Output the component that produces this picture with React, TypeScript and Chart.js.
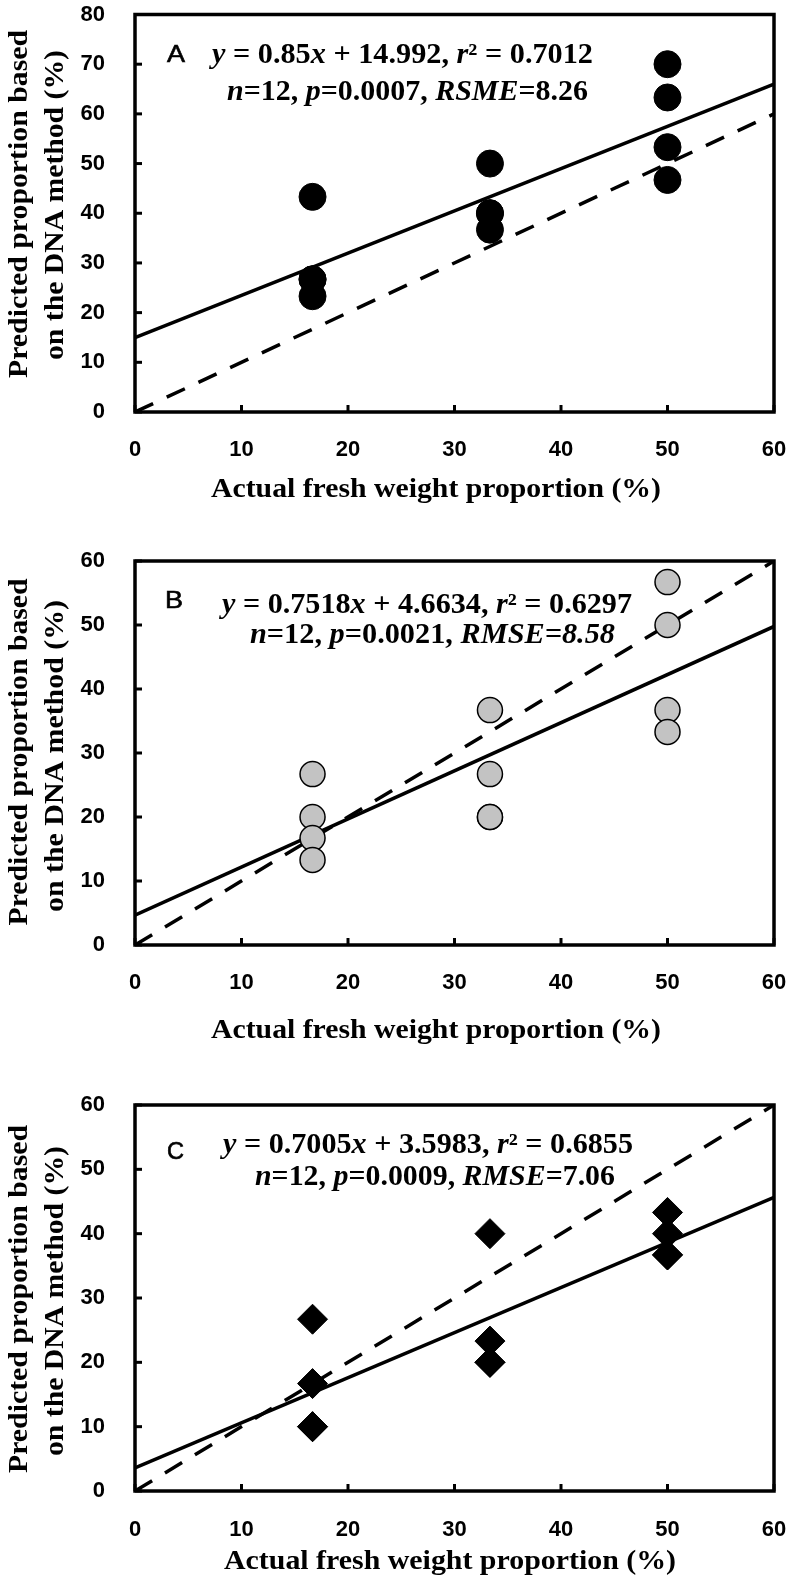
import React, { useEffect, useRef } from "react";
import { Chart, registerables } from "chart.js";

Chart.register(...registerables);

// ---------- data ----------
const xTickValues = [0, 10, 20, 30, 40, 50, 60];
const actualX = [16.67, 16.67, 16.67, 16.67, 33.33, 33.33, 33.33, 33.33, 50, 50, 50, 50];
const predictedA = [43.3, 26.7, 26.7, 23.3, 50, 40, 40, 36.7, 70, 63.3, 53.3, 46.7];
const predictedB = [26.7, 20, 16.7, 13.3, 36.7, 26.7, 20, 20, 56.7, 50, 36.7, 33.3];
const predictedC = [26.7, 16.7, 10, 10, 40, 23.3, 20, 20, 43.3, 40, 36.7, 36.7];
const slopes = [0.85, 0.7518, 0.7005];
const intercepts = [14.992, 4.6634, 3.5983];
const identityEnds = [0, 60];
const yMaxes = [80, 60, 60];
const panelLetters = ["A", "B", "C"];

type Seg = [string, boolean];
const eqLine1: Seg[][] = [
  [["y", true], [" = 0.85", false], ["x", true], [" + 14.992, ", false], ["r", true], ["\u00b2 = 0.7012", false]],
  [["y", true], [" = 0.7518", false], ["x", true], [" + 4.6634, ", false], ["r", true], ["\u00b2 = 0.6297", false]],
  [["y", true], [" = 0.7005", false], ["x", true], [" + 3.5983, ", false], ["r", true], ["\u00b2 = 0.6855", false]],
];
const eqLine2: Seg[][] = [
  [["n", true], ["=12, ", false], ["p", true], ["=0.0007, ", false], ["RSME", true], ["=8.26", false]],
  [["n", true], ["=12, ", false], ["p", true], ["=0.0021, ", false], ["RMSE=8.58", true]],
  [["n", true], ["=12, ", false], ["p", true], ["=0.0009, ", false], ["RMSE", true], ["=7.06", false]],
];
const yTitleLines = ["Predicted proportion based", "on the DNA method (%)"];
const xTitle = "Actual fresh weight proportion (%)";

// ---------- layout / style ----------
const layouts = [
  {
    top: 0, h: 525, areaTop: 14, areaBottom: 412,
    letter: [167, 62, 18], eq1: [212, 63, 381], eq2: [227, 100, 361],
    yTitle: [[27, 204, 348], [63, 205, 310]], xTitle: [436, 497, 450], xPad: 17,
  },
  {
    top: 525, h: 545, areaTop: 36, areaBottom: 420,
    letter: [165, 83, 18], eq1: [222, 88, 410], eq2: [250, 118, 365],
    yTitle: [[27, 227, 347], [63, 231, 312]], xTitle: [436, 513, 450], xPad: 17,
  },
  {
    top: 1070, h: 511, areaTop: 35, areaBottom: 421,
    letter: [167, 89, 17], eq1: [223, 83, 410], eq2: [255, 115, 360],
    yTitle: [[27, 229, 348], [63, 231, 310]], xTitle: [450, 499, 452], xPad: 18,
  },
];
const pointStyles = [
  { pointStyle: "circle", radius: 13.5, backgroundColor: "#000", borderColor: "#000", borderWidth: 1 },
  { pointStyle: "circle", radius: 12.5, backgroundColor: "#c3c3c3", borderColor: "#000", borderWidth: 1.5 },
  { pointStyle: "rectRot", radius: 15, backgroundColor: "#000", borderColor: "#000", borderWidth: 1 },
];
const serif = '"Liberation Serif", "Times New Roman", serif';
const sans = '"Liberation Sans", Arial, sans-serif';

function drawRich(ctx: CanvasRenderingContext2D, segs: Seg[], x: number, y: number, size: number, targetW: number) {
  const font = (it: boolean) => `${it ? "italic " : ""}bold ${size}px ${serif}`;
  let w = 0;
  for (const [t, it] of segs) {
    ctx.font = font(it);
    w += ctx.measureText(t).width;
  }
  const sx = targetW / w;
  ctx.save();
  ctx.translate(x, y);
  ctx.scale(sx, 1);
  ctx.textBaseline = "alphabetic";
  ctx.textAlign = "left";
  let cx = 0;
  for (const [t, it] of segs) {
    ctx.font = font(it);
    ctx.fillText(t, cx, 0);
    cx += ctx.measureText(t).width;
  }
  ctx.restore();
}

function makeDecor(idx: number) {
  const L = layouts[idx];
  return {
    id: "decor" + idx,
    afterDraw(chart: any) {
      const ctx: CanvasRenderingContext2D = chart.ctx;
      const { left, right, top, bottom } = chart.chartArea;
      const xs = chart.scales.x;
      const ys = chart.scales.y;
      ctx.save();
      ctx.strokeStyle = "#000";
      ctx.fillStyle = "#000";
      // inward tick marks
      ctx.lineWidth = 3;
      ctx.lineCap = "butt";
      for (const t of xs.ticks) {
        const px = xs.getPixelForValue(t.value);
        ctx.beginPath();
        ctx.moveTo(px, bottom);
        ctx.lineTo(px, bottom - 7);
        ctx.stroke();
      }
      for (const t of ys.ticks) {
        const py = ys.getPixelForValue(t.value);
        ctx.beginPath();
        ctx.moveTo(left, py);
        ctx.lineTo(left + 7, py);
        ctx.stroke();
      }
      // frame
      ctx.lineWidth = 3.5;
      ctx.strokeRect(left, top, right - left, bottom - top);
      // panel letter (horizontally fitted)
      {
        const [lx, ly, lw] = L.letter;
        ctx.font = `500 23px ${sans}`;
        const mw = ctx.measureText(panelLetters[idx]).width;
        ctx.save();
        ctx.translate(lx, ly);
        ctx.scale(lw / mw, 1);
        ctx.textAlign = "left";
        ctx.textBaseline = "alphabetic";
        ctx.fillText(panelLetters[idx], 0, 0);
        ctx.strokeStyle = "#000";
        ctx.lineWidth = 0.6;
        ctx.strokeText(panelLetters[idx], 0, 0);
        ctx.restore();
      }
      // equations
      drawRich(ctx, eqLine1[idx], L.eq1[0], L.eq1[1], 29, L.eq1[2]);
      drawRich(ctx, eqLine2[idx], L.eq2[0], L.eq2[1], 29, L.eq2[2]);
      // x title
      {
        const [cx, by, tw] = L.xTitle;
        drawRich(ctx, [[xTitle, false]], cx - tw / 2, by, 28, tw);
      }
      // y title
      for (let i = 0; i < 2; i++) {
        const [bx, cy, tw] = L.yTitle[i];
        ctx.save();
        ctx.translate(bx, cy);
        ctx.rotate(-Math.PI / 2);
        drawRich(ctx, [[yTitleLines[i], false]], -tw / 2, 0, 28, tw);
        ctx.restore();
      }
      ctx.restore();
    },
  };
}

function Panel({ idx }: { idx: number }) {
  const ref = useRef<HTMLCanvasElement>(null);
  const L = layouts[idx];
  useEffect(() => {
    const ys = [predictedA, predictedB, predictedC][idx];
    const m = slopes[idx];
    const b = intercepts[idx];
    const tickFont = { family: sans, size: 22, weight: "bold" as const };
    const chart = new Chart(ref.current as HTMLCanvasElement, {
      type: "scatter",
      data: {
        datasets: [
          {
            data: actualX.map((x, i) => ({ x, y: ys[i] })),
            ...pointStyles[idx],
            hoverRadius: pointStyles[idx].radius,
            order: 0,
          } as any,
          {
            data: identityEnds.map((v) => ({ x: v, y: v })),
            showLine: true,
            borderColor: "#000",
            borderWidth: 3.5,
            borderDash: [20, 15],
            pointRadius: 0,
            order: 2,
          },
          {
            data: identityEnds.map((v) => ({ x: v, y: m * v + b })),
            showLine: true,
            borderColor: "#000",
            borderWidth: 3.5,
            pointRadius: 0,
            order: 1,
          },
        ],
      },
      options: {
        responsive: false,
        maintainAspectRatio: false,
        animation: false,
        events: [],
        layout: { padding: { top: L.areaTop, right: 26, left: 0, bottom: 0 } },
        plugins: { legend: { display: false }, tooltip: { enabled: false } },
        scales: {
          x: {
            type: "linear",
            min: 0,
            max: 60,
            afterBuildTicks: (s: any) => {
              s.ticks = xTickValues.map((v) => ({ value: v }));
            },
            ticks: { font: tickFont, color: "#000", padding: L.xPad, maxRotation: 0 },
            grid: { display: false },
            border: { display: false },
            afterFit: (s: any) => {
              s.height = L.h - L.areaBottom;
              s.paddingLeft = 0;
              s.paddingRight = 0;
              s.paddingTop = 0;
              s.paddingBottom = 0;
            },
          },
          y: {
            type: "linear",
            min: 0,
            max: yMaxes[idx],
            ticks: { stepSize: 10, font: tickFont, color: "#000", padding: 22 },
            grid: { display: false },
            border: { display: false },
            afterFit: (s: any) => {
              s.width = 135;
              s.paddingLeft = 0;
              s.paddingRight = 0;
              s.paddingTop = 0;
              s.paddingBottom = 0;
            },
          },
        },
      },
      plugins: [makeDecor(idx)],
    });
    return () => chart.destroy();
  }, []);
  return (
    <canvas
      ref={ref}
      width={800}
      height={L.h}
      style={{ position: "absolute", left: 0, top: L.top, width: 800, height: L.h }}
    />
  );
}

export default function App() {
  return (
    <div style={{ position: "absolute", left: 0, top: 0, width: 800, height: 1581, background: "#fff", overflow: "hidden" }}>
      <Panel idx={0} />
      <Panel idx={1} />
      <Panel idx={2} />
    </div>
  );
}
